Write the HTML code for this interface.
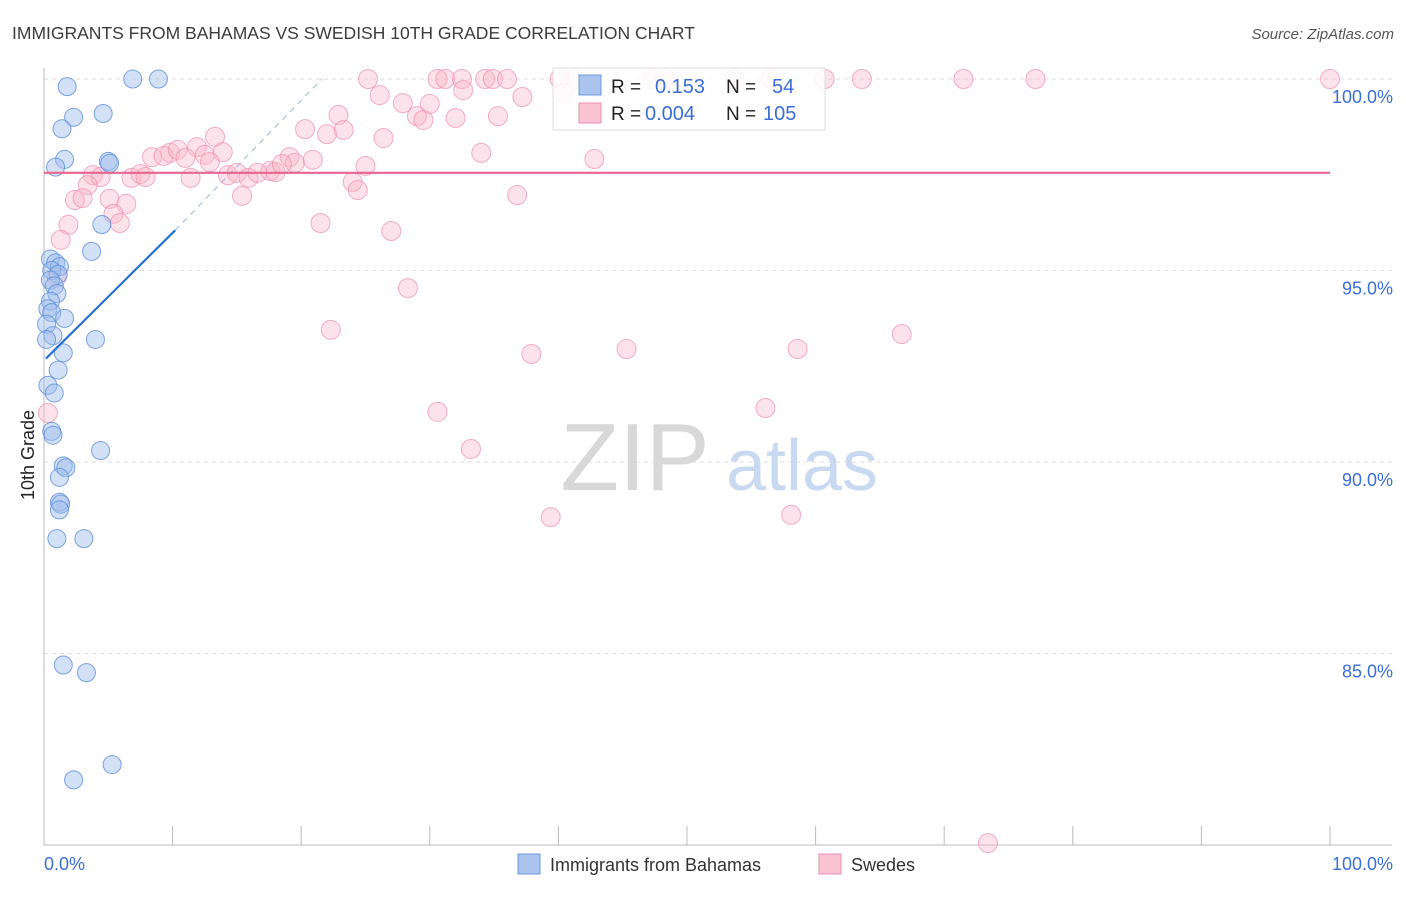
<!DOCTYPE html>
<html><head><meta charset="utf-8"><style>
body{margin:0;background:#fff;font-family:"Liberation Sans",sans-serif;}
svg text{font-family:"Liberation Sans",sans-serif;}
</style></head><body>
<svg id="chart" width="1406" height="892" xmlns="http://www.w3.org/2000/svg">
<text x="12" y="39" font-size="17.5" fill="#3c3c3c">IMMIGRANTS FROM BAHAMAS VS SWEDISH 10TH GRADE CORRELATION CHART</text>
<text x="1394" y="39" font-size="15" fill="#555" text-anchor="end" font-style="italic">Source: ZipAtlas.com</text>
<g>
<text x="635" y="490" font-size="96" fill="#d8d8d8" text-anchor="middle" font-family="Liberation Serif, serif">ZIP</text>
<text x="802" y="490" font-size="72" fill="#c9d9f1" text-anchor="middle">atlas</text>
</g>
<g id="grid"></g>
<g id="axes"></g>
<g id="pts"></g>
<g id="trend"></g>
<text transform="translate(34,455) rotate(-90)" font-size="18" fill="#222" text-anchor="middle">10th Grade</text>
<g>
<rect x="553" y="68" width="272" height="62" fill="#fff" fill-opacity="0.85" stroke="#ddd"/>
<rect x="579" y="75" width="22" height="20" fill="#aac4ee" stroke="#6d98e0"/>
<rect x="579" y="103" width="22" height="20" fill="#f9c3d3" stroke="#ee8fae"/>
<text x="611" y="93" font-size="19" fill="#222">R = </text><text x="655" y="93" font-size="20" fill="#3b6fd6">0.153</text>
<text x="726" y="93" font-size="19" fill="#222">N = </text><text x="772" y="93" font-size="20" fill="#3b6fd6">54</text>
<text x="611" y="120" font-size="19" fill="#222">R = </text><text x="645" y="120" font-size="20" fill="#3b6fd6">0.004</text>
<text x="726" y="120" font-size="19" fill="#222">N = </text><text x="763" y="120" font-size="20" fill="#3b6fd6">105</text>
</g>
<g>
<rect x="518" y="854" width="22" height="20" fill="#aac4ee" stroke="#6d98e0"/>
<text x="550" y="871" font-size="18" fill="#333">Immigrants from Bahamas</text>
<rect x="819" y="854" width="22" height="20" fill="#f9c3d3" stroke="#ee8fae"/>
<text x="851" y="871" font-size="18" fill="#333">Swedes</text>
</g>
</svg>
<script>
const blueX=[1.8,6.9,8.9,2.3,4.6,1.4,1.6,0.9,5.0,5.1,4.5,3.7,0.5,0.9,1.2,0.6,1.1,0.5,0.8,1.0,0.5,0.3,0.6,1.6,0.2,0.7,0.2,4.0,1.5,1.1,0.3,0.8,0.6,0.7,4.4,1.5,1.7,1.2,1.2,1.3,1.2,1.0,3.1,1.5,3.3,5.3,2.3];
const blueY=[99.8,100,100,99.0,99.1,98.7,97.9,97.7,97.85,97.8,96.2,95.5,95.3,95.2,95.1,95.0,94.9,94.75,94.6,94.4,94.2,94.0,93.9,93.75,93.6,93.3,93.2,93.2,92.85,92.4,92.0,91.8,90.8,90.7,90.3,89.9,89.85,89.6,88.95,88.9,88.75,88.0,88.0,84.7,84.5,82.1,81.7];
const pinkX=[25.2,30.6,31.2,32.5,34.3,34.9,36.0,40.1,41.3,47.3,48.3,53.7,56.5,60.7,63.6,71.5,77.1,100,26.1,32.6,40.4,37.2,27.9,30.0,29.0,29.5,32.0,35.3,22.9,26.4,23.3,22.0,20.3,13.3,11.9,9.8,8.4,9.3,10.4,11.0,12.5,13.9,12.9,19.1,20.9,19.5,34.0,42.8,25.0,6.8,7.5,7.9,3.8,4.4,3.4,11.4,14.3,15.0,15.9,16.6,17.6,18.0,18.5,2.4,3.0,5.1,6.4,15.4,24.0,24.4,36.8,5.4,5.9,1.9,1.3,1.0,21.5,27.0,28.3,22.3,37.9,45.3,58.6,66.7,0.3,30.6,56.1,33.2,39.4,58.1,73.4];
const pinkY=[100,100,100,100,100,100,100,100,100,100,100,100,100,100,100,100,100,100,99.58,99.71,99.63,99.53,99.37,99.35,99.03,98.93,98.98,99.03,99.06,98.46,98.67,98.56,98.69,98.49,98.22,98.07,97.96,97.99,98.15,97.94,98.02,98.09,97.83,97.96,97.89,97.81,98.07,97.91,97.73,97.42,97.52,97.44,97.49,97.44,97.23,97.42,97.49,97.55,97.42,97.55,97.6,97.57,97.78,96.84,96.89,96.87,96.74,96.95,97.31,97.1,96.97,96.48,96.24,96.19,95.8,94.83,96.24,96.03,94.54,93.45,92.82,92.95,92.95,93.34,91.28,91.31,91.41,90.34,88.56,88.62,80.05];
const yTicks=[100,95,90,85];
const yTickLabels=["100.0%","95.0%","90.0%","85.0%"];
const xTicks=[0,10,20,30,40,50,60,70,80,90,100];
const blueTrend=[[0.15,92.7],[10.2,96.05]];
const blueTrendExt=[[10.2,96.05],[21.6,100]];
const pinkTrend=[[0,97.55],[100,97.55]];
const NS="http://www.w3.org/2000/svg";
const X=v=>44+v*12.86, Y=v=>79+(100-v)*38.3;
function mk(tag,attrs,parent){const e=document.createElementNS(NS,tag);for(const k in attrs)e.setAttribute(k,attrs[k]);parent.appendChild(e);return e;}
const grid=document.getElementById('grid'),axes=document.getElementById('axes'),pts=document.getElementById('pts'),tr=document.getElementById('trend');
yTicks.forEach((t,i)=>{
 const l=mk('line',{x1:44,x2:1392,y1:Y(t),y2:Y(t),stroke:'#ddd','stroke-dasharray':'4,4'},grid);
 
 
 const tx=mk('text',{x:1393,y:Y(t)+24,'font-size':18,fill:'#3b6fd6','text-anchor':'end'},axes);
 tx.textContent=yTickLabels[i];
 
 
});
const ax=mk('line',{x1:44,x2:44,y1:68,y2:845,stroke:'#bbb'},axes);


const bx=mk('line',{x1:44,x2:1392,y1:845,y2:845,stroke:'#bbb'},axes);


xTicks.forEach(t=>{
 const l=mk('line',{x1:X(t),x2:X(t),y1:826,y2:845,stroke:'#bbb'},axes);
 
 
});
const xl0=mk('text',{x:44,y:870,'font-size':18,fill:'#3b6fd6'},axes);xl0.textContent='0.0%';


const xl1=mk('text',{x:1393,y:870,'font-size':18,fill:'#3b6fd6','text-anchor':'end'},axes);xl1.textContent='100.0%';


pinkX.forEach((x,i)=>{
 const c=mk('circle',{cx:X(x),cy:Y(pinkY[i]),r:9.5,fill:'#f7b6ca','fill-opacity':0.4,stroke:'#ee8fae','stroke-opacity':0.7},pts);
 
 
});
blueX.forEach((x,i)=>{
 const c=mk('circle',{cx:X(x),cy:Y(blueY[i]),r:9,fill:'#9dbdec','fill-opacity':0.45,stroke:'#5b8fdc','stroke-opacity':0.8},pts);
 
 
});
const l1=mk('line',{x1:X(blueTrend[0][0]),y1:Y(blueTrend[0][1]),x2:X(blueTrend[1][0]),y2:Y(blueTrend[1][1]),stroke:'#2a6fd6','stroke-width':2.2},tr);


const l2=mk('line',{x1:X(blueTrendExt[0][0]),y1:Y(blueTrendExt[0][1]),x2:X(blueTrendExt[1][0]),y2:Y(blueTrendExt[1][1]),stroke:'#9fb6e0','stroke-width':1,'stroke-dasharray':'6,5'},tr);


const l3=mk('line',{x1:X(pinkTrend[0][0]),y1:Y(pinkTrend[0][1]),x2:X(pinkTrend[1][0]),y2:Y(pinkTrend[1][1]),stroke:'#e8658f','stroke-width':2.2},tr);


</script>
</body></html>
